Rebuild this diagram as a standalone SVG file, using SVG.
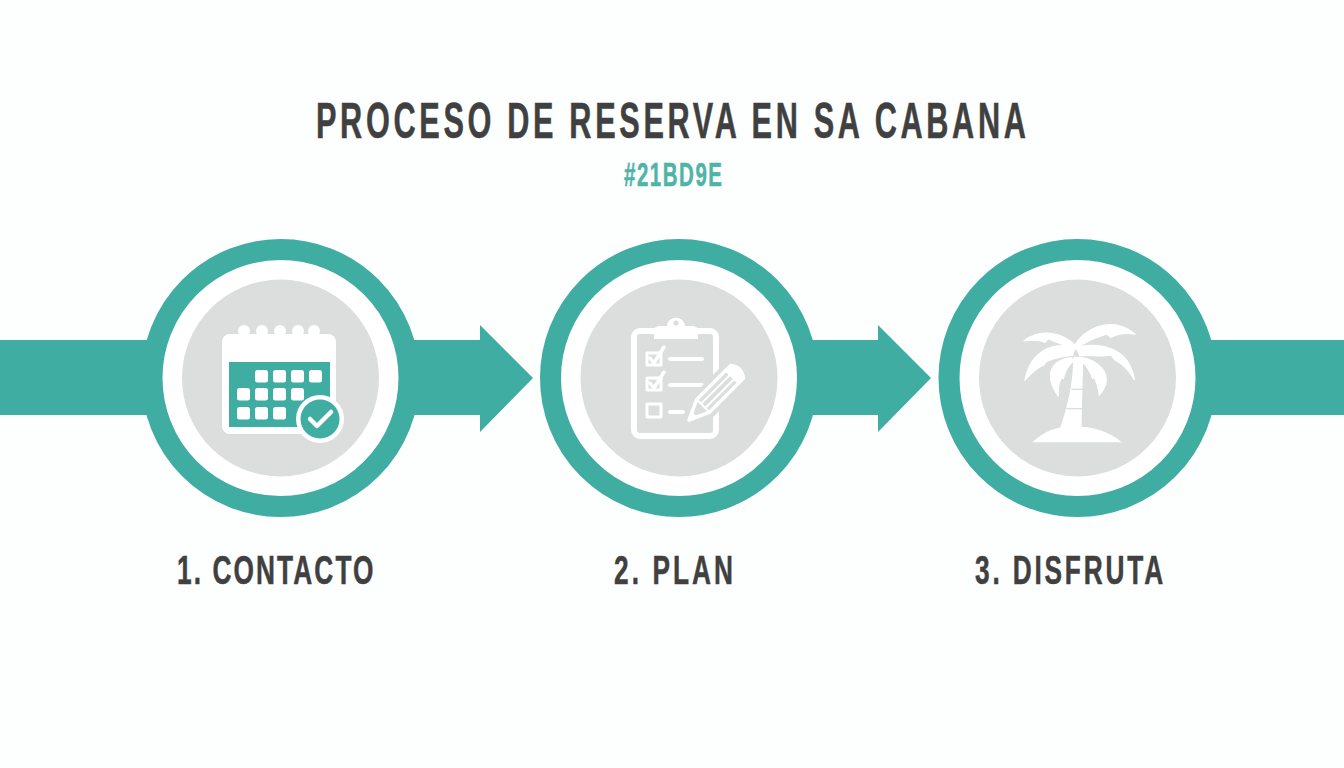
<svg xmlns="http://www.w3.org/2000/svg" width="1344" height="768" viewBox="0 0 1344 768">
<style>
.t{font-family:"Liberation Sans",Arial,sans-serif;font-weight:700;stroke-width:.5}
.dark{fill:#404040;stroke:#404040}
.teal{fill:#3fada2}
.tt{fill:#4fb3a8;stroke:#4fb3a8}
.ring{fill:#fff;stroke:#3fada2;stroke-width:21}
.disc{fill:#dcdddd}
.w{fill:#fff}
.ws{fill:none;stroke:#fff;stroke-linecap:round;stroke-linejoin:round}
.fr{fill:#fff;stroke:#fff;stroke-width:4;stroke-linejoin:round}
.band{fill:none;stroke:#dcdddd;stroke-width:4}
</style>
<defs>
<g id="node-base">
<circle r="128.500" class="ring"/>
<circle r="98.500" class="disc"/>
</g>
</defs>
<rect width="1344" height="768" fill="#fdfefe"/>
<g id="connectors">
<rect class="teal" x="0" y="340" width="160" height="75"/>
<polygon class="teal" points="400,340 480,340 480,325 533,378 480,432 480,415 400,415"/>
<polygon class="teal" points="800,340 878,340 878,325 931,378 878,432 878,415 800,415"/>
<rect class="teal" x="1195" y="340" width="149" height="75"/>
</g>
<g id="title">
<g transform="translate(316 138) scale(.62 1)"><text class="t dark" font-size="49.500" textLength="1145" lengthAdjust="spacing">PROCESO DE RESERVA EN SA CABANA</text></g>
<g transform="translate(624 186) scale(.62 1)"><text class="t tt" font-size="33" textLength="158" lengthAdjust="spacing">#21BD9E</text></g>
</g>
<g id="node-1">
<use href="#node-base" x="280.500" y="378"/>
<g class="w"><circle cx="244" cy="331" r="6"/><circle cx="262" cy="331" r="6"/><circle cx="280" cy="331" r="6"/><circle cx="298" cy="331" r="6"/><circle cx="314" cy="331" r="6"/></g>
<rect class="w" x="222" y="334" width="114" height="100" rx="8"/>
<rect class="teal" x="229" y="362" width="101" height="65"/>
<g class="w">
<rect x="255" y="370" width="13" height="12.500" rx="2.500"/><rect x="273" y="370" width="13" height="12.500" rx="2.500"/><rect x="291" y="370" width="13" height="12.500" rx="2.500"/><rect x="309" y="370" width="13" height="12.500" rx="2.500"/>
<rect x="237" y="388" width="13" height="12.500" rx="2.500"/><rect x="255" y="388" width="13" height="12.500" rx="2.500"/><rect x="273" y="388" width="13" height="12.500" rx="2.500"/><rect x="291" y="388" width="13" height="12.500" rx="2.500"/>
<rect x="237" y="407" width="13" height="12.500" rx="2.500"/><rect x="255" y="407" width="13" height="12.500" rx="2.500"/><rect x="273" y="407" width="13" height="12.500" rx="2.500"/>
</g>
<circle cx="320" cy="419" r="24" class="w"/>
<circle cx="320" cy="419" r="19.500" class="teal"/>
<path d="M310 419 L317 426 L331 412" class="ws" stroke-width="4.500"/>
<g transform="translate(177 584) scale(.64 1)"><text class="t dark" font-size="41" textLength="307" lengthAdjust="spacing">1. CONTACTO</text></g>
</g>
<g id="node-2">
<use href="#node-base" x="679" y="378"/>
<rect x="634" y="331" width="82" height="105" rx="6" class="ws" stroke-width="6"/>
<path class="w" d="M654 339 V331 Q654 326 660 326 H667 C668 315 684 315 685 326 H692 Q698 326 698 331 V339Z"/>
<circle cx="676" cy="323" r="2.500" class="disc"/>
<g class="ws" stroke-width="3">
<path d="M647 353 H661 V365 H647Z"/><path d="M650 358 L654 363 L664 347" stroke-width="3.500"/>
<path d="M647 378 H661 V390 H647Z"/><path d="M650 383 L654 388 L664 372" stroke-width="3.500"/>
<path d="M647 404 H661 V417 H647Z"/>
</g>
<g class="ws" stroke-width="4"><path d="M670 359 H702"/><path d="M670 385 H702"/><path d="M670 412 H683"/></g>
<g transform="translate(689 420) rotate(-45)">
<path d="M-7 0 L20 -15 H76 Q84 0 76 15 H20Z" class="disc"/>
<path d="M0 0 L20 -9 H68 Q75 0 68 9 H20Z" class="ws" stroke-width="3.500"/>
<path d="M20 -9 V9 M20 -3 H60 M20 3 H60" class="ws" stroke-width="2"/>
<path d="M60 -9 H68 Q75 0 68 9 H60Z" class="w"/>
<path d="M0 0 L8 -3.500 V3.500Z" class="w"/>
</g>
<g transform="translate(614 584) scale(.64 1)"><text class="t dark" font-size="41" textLength="186" lengthAdjust="spacing">2. PLAN</text></g>
</g>
<g id="node-3">
<use href="#node-base" x="1077.500" y="378"/>
<g transform="translate(1000 310) scale(.33333)">
<path class="w" d="M97 397 C130 365 165 352 200 350 C260 345 325 360 365 397Z"/>
<path class="w" d="M178 360 C200 300 220 220 220 140 L250 140 C248 220 245 290 245 360Z"/>
<path class="fr" d="M225 105 C195 75 130 50 72 92 C100 88 125 92 135 97 L145 86 C170 98 200 105 225 118Z"/>
<path class="fr" d="M225 105 C245 65 330 10 405 72 C380 68 350 72 332 82 L320 72 C290 82 250 95 228 118Z"/>
<path class="fr" d="M225 112 C170 98 95 112 75 210 C95 188 115 172 132 165 L138 155 C160 145 190 138 218 135Z"/>
<path class="fr" d="M228 112 C290 98 385 105 403 208 C385 178 365 160 345 150 L333 135 C305 140 270 135 240 137Z"/>
<path class="fr" d="M215 144 C175 142 120 180 175 258 C172 230 178 215 184 205 L190 205 C195 180 205 165 222 152Z"/>
<path class="fr" d="M245 144 C290 146 350 195 298 255 C295 230 290 215 283 200 L278 205 C270 180 258 165 245 152Z"/>
<path class="band" d="M200 296 H246"/><path class="band" d="M214 238 H250"/>
</g>
<g transform="translate(975 584) scale(.64 1)"><text class="t dark" font-size="41" textLength="294" lengthAdjust="spacing">3. DISFRUTA</text></g>
</g>
</svg>
